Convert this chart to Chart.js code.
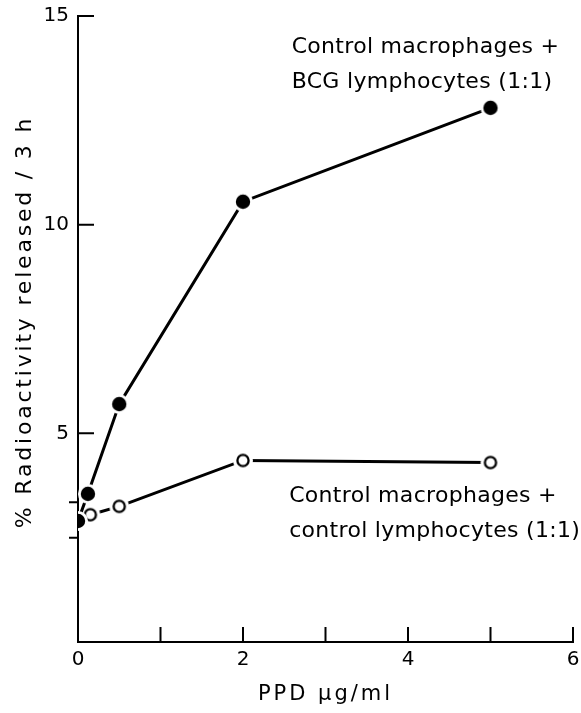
<!DOCTYPE html>
<html><head><meta charset="utf-8">
<script src="https://cdn.jsdelivr.net/npm/chart.js@4/dist/chart.umd.min.js"></script>
<style>html,body{margin:0;padding:0;background:#fff}#wrap{width:581px;height:713px}</style>
</head><body><div id="wrap"><canvas id="c" width="581" height="713"></canvas></div>
<script>
// ---- data ----
const xBCG = [0, 0.12, 0.5, 2, 5];
const yBCG = [2.9, 3.55, 5.7, 10.55, 12.8];
const xCtrl = [0, 0.15, 0.5, 2, 5];
const yCtrl = [2.9, 3.05, 3.25, 4.35, 4.3];
const xTickValues = [1, 2, 3, 4, 5, 6];
const xTickLabels = ['0', '2', '4', '6'];
const yTickValues = [5, 10, 15];
const yTickLabels = ['5', '10', '15'];
const yExtraMarks = [2.5, 3.35];
const labelBCG = ['Control macrophages +', 'BCG lymphocytes (1:1)'];
const labelCtrl = ['Control macrophages +', 'control lymphocytes (1:1)'];
const xTitle = 'PPD \u03BCg/ml';
const yTitle = '% Radioactivity released / 3 h';

const FONT = '"DejaVu Sans", sans-serif';

const toPts = (xs, ys) => xs.map((x, i) => ({x, y: ys[i]}));

function markerCanvas(filled) {
  const c = document.createElement('canvas');
  c.width = 22; c.height = 22;
  const g = c.getContext('2d');
  g.fillStyle = '#fff';
  g.beginPath(); g.arc(11, 11, 10, 0, Math.PI * 2); g.fill();
  g.beginPath();
  if (filled) {
    g.fillStyle = '#000'; g.arc(11, 11, 7.2, 0, Math.PI * 2); g.fill();
  } else {
    g.strokeStyle = '#000'; g.lineWidth = 2.3; g.arc(11, 11, 5.6, 0, Math.PI * 2); g.stroke();
  }
  return c;
}
const filledMarker = markerCanvas(true);
const openMarker = markerCanvas(false);

const decor = {
  id: 'decor',
  afterDraw(chart) {
    const ctx = chart.ctx, xs = chart.scales.x, ys = chart.scales.y;
    const ca = chart.chartArea;
    ctx.save();
    ctx.strokeStyle = '#000';
    ctx.lineWidth = 2;
    ctx.beginPath();
    yTickValues.forEach(v => { const p = ys.getPixelForValue(v); ctx.moveTo(ca.left, p); ctx.lineTo(ca.left + 16, p); });
    xTickValues.forEach(v => { const p = xs.getPixelForValue(v); ctx.moveTo(p, ca.bottom); ctx.lineTo(p, ca.bottom - 15); });
    yExtraMarks.forEach(v => { const p = ys.getPixelForValue(v); ctx.moveTo(ca.left, p); ctx.lineTo(ca.left - 9, p); });
    ctx.stroke();
    ctx.fillStyle = '#000';
    ctx.textBaseline = 'middle';
    ctx.textAlign = 'left';
    ctx.font = '22px ' + FONT;
    ctx.letterSpacing = '0.3px';
    const drawLines = (lines, xv, yv) => {
      const x0 = xs.getPixelForValue(xv), y0 = ys.getPixelForValue(yv);
      lines.forEach((t, i) => ctx.fillText(t, x0, y0 + i * 35));
    };
    drawLines(labelBCG, 2.59, 14.25);
    drawLines(labelCtrl, 2.56, 3.48);
    // axis titles
    ctx.textAlign = 'center';
    ctx.font = '21px ' + FONT;
    ctx.letterSpacing = '3px';
    ctx.fillText(xTitle, (ca.left + ca.right) / 2, ca.bottom + 53);
    ctx.translate(ca.left - 53, (ca.top + ca.bottom) / 2 - 7);
    ctx.rotate(-Math.PI / 2);
    ctx.font = '22px ' + FONT;
    ctx.letterSpacing = '2.8px';
    ctx.fillText(yTitle, 0, 0);
    ctx.restore();
  }
};

new Chart(document.getElementById('c'), {
  type: 'scatter',
  data: {
    datasets: [
      { label: 'BCG', data: toPts(xBCG, yBCG), showLine: true, borderColor: '#000', borderWidth: 3,
        pointStyle: filledMarker, order: 0 },
      { label: 'Control', data: toPts(xCtrl, yCtrl), showLine: true, borderColor: '#000', borderWidth: 3,
        pointStyle: openMarker, pointRadius: [0, 5, 5, 5, 5], order: 1 }
    ]
  },
  options: {
    responsive: false, animation: false, devicePixelRatio: 1,
    layout: { padding: { top: 16, right: 5, left: 0, bottom: 0 } },
    plugins: { legend: { display: false }, tooltip: { enabled: false } },
    scales: {
      x: {
        type: 'linear', min: 0, max: 6,
        afterFit: s => { s.height = 71; s.paddingLeft = 0; s.paddingRight = 0; },
        grid: { display: false, drawTicks: false },
        border: { display: true, color: '#000', width: 2 },
        ticks: { stepSize: 1, color: '#000', font: { family: FONT, size: 20 }, padding: 6,
          callback: v => (v % 2 === 0 ? xTickLabels[v / 2] : '') }
      },
      y: {
        type: 'linear', min: 0, max: 15,
        afterFit: s => { s.width = 78; s.paddingTop = 0; s.paddingBottom = 0; },
        grid: { display: false, drawTicks: false },
        border: { display: true, color: '#000', width: 2 },
        ticks: { stepSize: 5, color: '#000', font: { family: FONT, size: 20 }, padding: 9,
          callback: v => (v > 0 ? yTickLabels[v / 5 - 1] : '') }
      }
    }
  },
  plugins: [decor]
});
</script></body></html>
